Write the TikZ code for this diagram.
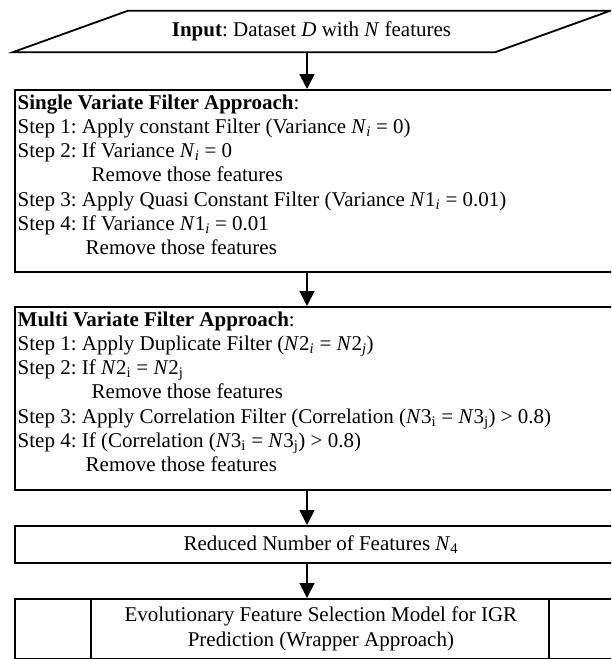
\documentclass[tikz,border=0pt]{standalone}
\usepackage{fontspec}
\setmainfont{Liberation Serif}
\usetikzlibrary{arrows.meta,calc}
\newcommand\Nsub[2]{\textit{N}#1\textsubscript{#2}}
\frenchspacing
\begin{document}
\frenchspacing
\begin{tikzpicture}[x=1pt,y=-1pt,
  lw/.style={line width=1.8pt},
  boxs/.style={draw,lw,minimum width=612pt,inner sep=0pt,anchor=north west},
  arr/.style={lw,-{Triangle[width=15pt,length=15pt]}},
  txt/.style={font=\fontsize{21}{24.2}\selectfont\frenchspacing}]
\useasboundingbox (0,0) rectangle (611,659);
\clip (0,0) rectangle (611,659);
\coordinate (ax) at (307,0);
% input parallelogram
\node[txt,minimum width=597pt,minimum height=41pt,inner sep=0pt] (inp) at (311.5,31.5)
  {\textbf{Input}: Dataset \textit{D} with \textit{N} features};
\draw[lw,line join=miter] (inp.south west) -- ($(inp.south east)+(-115,0)$)
  -- (inp.north east) -- ($(inp.north west)+(115,0)$) -- cycle;
% single variate
\node[boxs,minimum height=182pt] (sv) at (14,89) {};
\node[txt,anchor=north west,align=left,inner sep=0pt] (svt) at ($(sv.north west)+(3.5,5.5)$) {%
\textbf{Single Variate Filter Approach}:\\
Step 1: Apply constant Filter (Variance \Nsub{}{\textit{i}} = 0)\\
Step 2: If Variance \Nsub{}{\textit{i}} = 0\\
\hspace*{74pt}Remove those features\\
Step 3: Apply Quasi Constant Filter (Variance \Nsub{1}{\textit{i}} = 0.01)\\
Step 4: If Variance \Nsub{1}{\textit{i}} = 0.01\\
\hspace*{68pt}Remove those features};
% multi variate
\node[boxs,minimum height=183pt] (mv) at (14,306) {};
\node[txt,anchor=north west,align=left,inner sep=0pt] (mvt) at ($(mv.north west)+(3.5,5.5)$) {%
\textbf{Multi Variate Filter Approach}:\\
Step 1: Apply Duplicate Filter (\Nsub{2}{\textit{i}} = \Nsub{2}{\textit{j}})\\
Step 2: If \Nsub{2}{i} = \Nsub{2}{j}\\
\hspace*{74pt}Remove those features\\
Step 3: Apply Correlation Filter (Correlation (\Nsub{3}{i} = \Nsub{3}{j}) > 0.8)\\
Step 4: If (Correlation (\Nsub{3}{i} = \Nsub{3}{j}) > 0.8)\\
\hspace*{68pt}Remove those features};
% reduced
\node[boxs,txt,minimum height=37pt] (red) at (14,525) {Reduced Number of Features \Nsub{}{4}};
% evolutionary
\node[boxs,txt,minimum height=60pt,align=center] (evo) at (14,598)
  {Evolutionary Feature Selection Model for IGR\\Prediction (Wrapper Approach)};
\draw[lw] ($(evo.north west)+(77,0)$) -- ($(evo.south west)+(77,0)$);
\draw[lw] ($(evo.north west)+(535,0)$) -- ($(evo.south west)+(535,0)$);
% arrows
\draw[arr] (inp.south -| ax) -- (sv.north -| ax);
\draw[arr] (sv.south -| ax) -- (mv.north -| ax);
\draw[arr] (mv.south -| ax) -- (red.north -| ax);
\draw[arr] (red.south -| ax) -- (evo.north -| ax);
\end{tikzpicture}
\end{document}
